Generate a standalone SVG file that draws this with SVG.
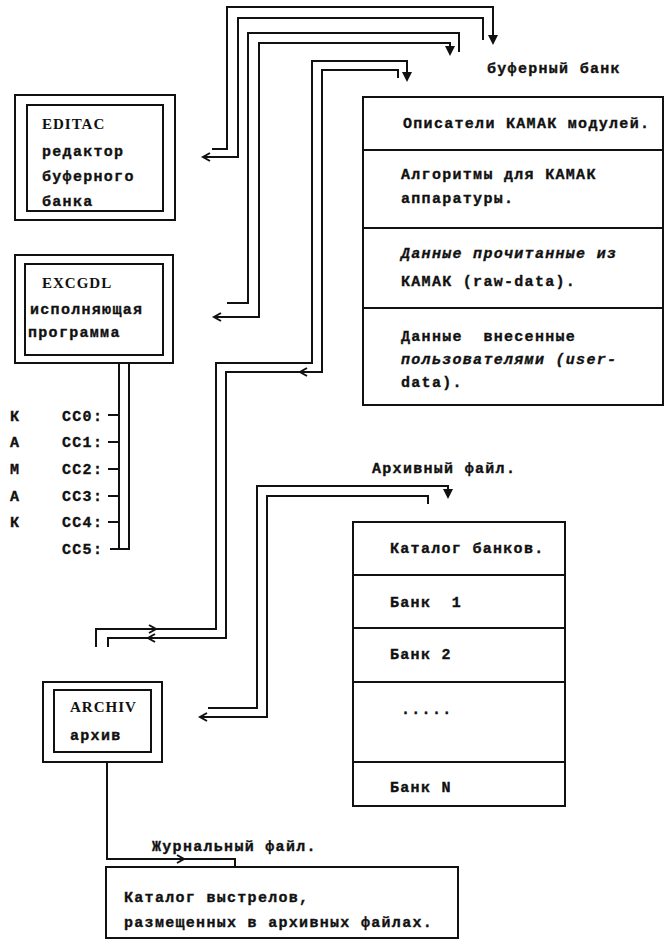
<svg xmlns="http://www.w3.org/2000/svg" width="665" height="947" viewBox="0 0 665 947">
<style>
.bg{fill:#fff}
.box{fill:none;stroke:#111;stroke-width:2}
.ln{fill:none;stroke:#111;stroke-width:2;stroke-linejoin:miter}
.ah{fill:#111;stroke:none}
.t{font-family:"Liberation Mono","DejaVu Sans Mono",monospace;font-weight:bold;font-size:15px;letter-spacing:1.3px;fill:#111;stroke:#111;stroke-width:0.35px;white-space:pre}
.it{font-style:italic}
.s{font-family:"Liberation Serif","DejaVu Serif",serif;font-weight:bold;font-size:15px;letter-spacing:1px;fill:#111}
</style>
<defs>
<path id="aL" d="M7 -4 L0 0 L7 4" class="ln"/>
<path id="aR" d="M-7 -4 L0 0 L-7 4" class="ln"/>
<path id="aD" d="M-5 -10 L5 -10 L0 0 Z" class="ah"/>
</defs>
<rect class="bg" x="0" y="0" width="665" height="947"/>

<g id="editac">
<rect class="box" x="15" y="95" width="160" height="125"/>
<rect class="box" x="27" y="105" width="136" height="106"/>
<text class="s" x="42" y="129">EDITAC</text>
<text class="t" x="42" y="156">редактор</text>
<text class="t" x="42" y="181">буферного</text>
<text class="t" x="42" y="206">банка</text>
</g>

<g id="excgdl">
<rect class="box" x="15" y="255" width="158" height="108"/>
<rect class="box" x="25" y="264" width="138" height="91"/>
<text class="s" x="42" y="288">EXCGDL</text>
<text class="t" x="30" y="314">исполняющая</text>
<text class="t" x="28" y="337">программа</text>
</g>

<g id="camac">
<text class="t" x="10" y="421">К</text>
<text class="t" x="10" y="447">А</text>
<text class="t" x="10" y="474">М</text>
<text class="t" x="10" y="501">А</text>
<text class="t" x="10" y="527">К</text>
<text class="t" x="62" y="421">CC0:</text>
<text class="t" x="62" y="447">CC1:</text>
<text class="t" x="62" y="474">CC2:</text>
<text class="t" x="62" y="501">CC3:</text>
<text class="t" x="62" y="527">CC4:</text>
<text class="t" x="62" y="554">CC5:</text>
</g>

<g id="archiv">
<rect class="box" x="43" y="682" width="119" height="80"/>
<rect class="box" x="54" y="690" width="97" height="62"/>
<text class="s" x="70" y="712">ARCHIV</text>
<text class="t" x="70" y="740">архив</text>
</g>

<g id="buffer-bank">
<text class="t" x="487" y="73">буферный банк</text>
<rect class="box" x="363" y="97" width="300" height="308"/>
<line class="ln" x1="363" y1="150" x2="663" y2="150"/>
<line class="ln" x1="363" y1="228" x2="663" y2="228"/>
<line class="ln" x1="363" y1="308" x2="663" y2="308"/>
<text class="t" x="403" y="128">Описатели КАМАК модулей.</text>
<text class="t" x="401" y="179">Алгоритмы для КАМАК</text>
<text class="t" x="401" y="203">аппаратуры.</text>
<text class="t it" x="401" y="258">Данные прочитанные из</text>
<text class="t" x="401" y="286">КАМАК (raw-data).</text>
<text class="t" x="401" y="341" xml:space="preserve">Данные  внесенные</text>
<text class="t it" x="401" y="364">пользователями (user-</text>
<text class="t" x="401" y="387">data).</text>
</g>

<g id="archive-file">
<text class="t" x="372" y="473">Архивный файл.</text>
<rect class="box" x="353" y="522" width="212" height="284"/>
<line class="ln" x1="353" y1="575" x2="565" y2="575"/>
<line class="ln" x1="353" y1="628" x2="565" y2="628"/>
<line class="ln" x1="353" y1="682" x2="565" y2="682"/>
<line class="ln" x1="353" y1="762" x2="565" y2="762"/>
<text class="t" x="390" y="553">Каталог банков.</text>
<text class="t" x="390" y="607" xml:space="preserve">Банк  1</text>
<text class="t" x="390" y="659">Банк 2</text>
<text class="t" x="401" y="714">.....</text>
<text class="t" x="390" y="792">Банк N</text>
</g>

<g id="journal-file">
<text class="t" x="152" y="851">Журнальный файл.</text>
<rect class="box" x="106" y="867" width="352" height="71"/>
<text class="t" x="124" y="902">Каталог выстрелов,</text>
<text class="t" x="124" y="927">размещенных в архивных файлах.</text>
</g>

<g id="connectors">
<path class="ln" d="M212 149 H227 V7 H493 V36"/>
<use href="#aD" x="493" y="45"/>
<path class="ln" d="M203 157 H238 V18 H483 V40"/>
<use href="#aL" x="203" y="157"/>
<path class="ln" d="M227 303 H248 V33 H459 V52"/>
<path class="ln" d="M214 317 H259 V43 H450 V46"/>
<use href="#aD" x="450" y="56"/>
<use href="#aL" x="214" y="317"/>
<path class="ln" d="M407 73 V61 H312 V363 H216 V629 H96 V647"/>
<use href="#aD" x="407" y="82"/>
<path class="ln" d="M398 78 V70 H322 V372 H226 V638 H108 V647"/>
<use href="#aL" x="300" y="372"/>
<use href="#aR" x="156" y="629"/>
<use href="#aL" x="148" y="638"/>
<path class="ln" d="M208 708 H257 V486 H448 V489"/>
<use href="#aD" x="448" y="499"/>
<path class="ln" d="M200 717 H267 V496 H428 V504"/>
<use href="#aL" x="200" y="717"/>
<path class="ln" d="M107 762 V859 H235 V867"/>
<use href="#aR" x="184" y="859"/>
<path class="ln" d="M119 363 V549"/>
<path class="ln" d="M129 363 V549 H110"/>
<path class="ln" d="M108 415 H119 M108 442 H119 M108 469 H119 M108 496 H119 M108 522 H119"/>
</g>
</svg>
